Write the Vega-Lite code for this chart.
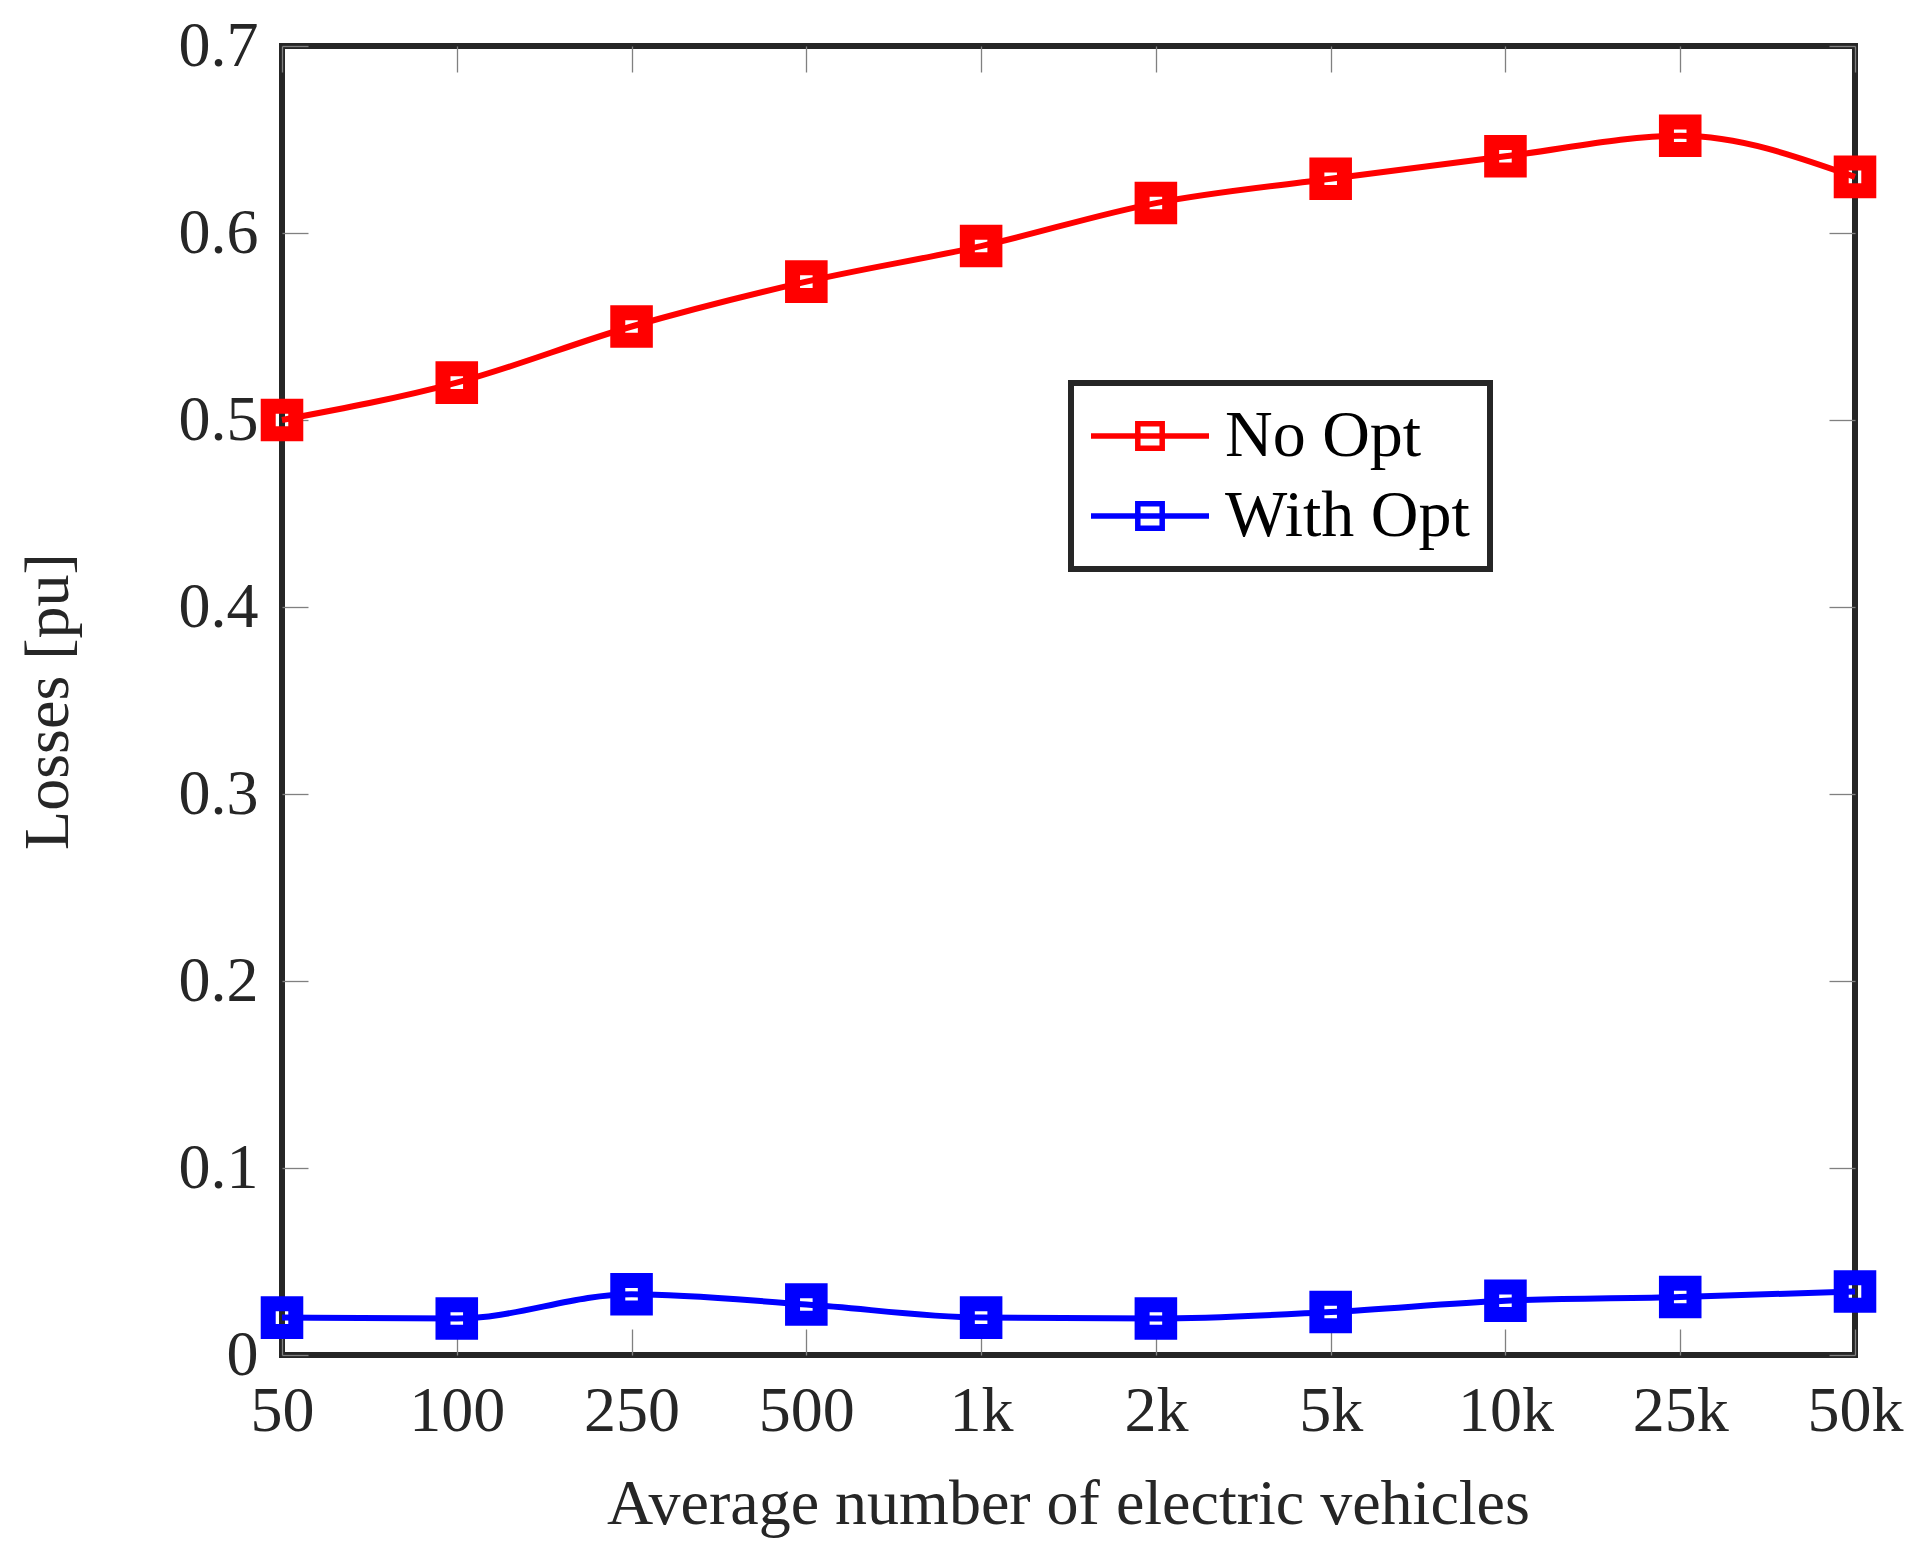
{
  "$schema": "https://vega.github.io/schema/vega-lite/v6.json",
  "width": 1573,
  "height": 1309,
  "autosize": {"type": "none"},
  "padding": {"left": 282, "top": 46, "right": 62, "bottom": 199},
  "background": "white",
  "config": {
    "font": "Liberation Serif",
    "view": {"stroke": "#262626", "strokeWidth": 6},
    "axis": {
      "labelFont": "Liberation Serif",
      "labelFontSize": 64,
      "labelColor": "#262626",
      "titleFont": "Liberation Serif",
      "titleFontSize": 64,
      "titleFontWeight": "normal",
      "titleColor": "#262626",
      "domain": false,
      "grid": false,
      "tickColor": "#808080",
      "tickWidth": 1.3,
      "tickSize": -26
    },
    "legend": {
      "orient": "none",
      "legendX": 789,
      "legendY": 337,
      "labelFont": "Liberation Serif",
      "labelFontSize": 66,
      "labelColor": "#000000",
      "labelLimit": 0,
      "labelOffset": 42,
      "strokeColor": "#262626",
      "strokeWidth": 6,
      "fillColor": "white",
      "padding": 20,
      "rowPadding": 14,
      "symbolType": "M-2.95,0H2.95M-0.61,-0.61H0.61V0.61H-0.61Z",
      "symbolSize": 1600,
      "symbolOffset": 26,
      "symbolStrokeWidth": 5.5,
      "symbolFillColor": "transparent"
    }
  },
  "data": {
    "values": [
      {"n": "50", "series": "No Opt", "loss": 0.500},
      {"n": "100", "series": "No Opt", "loss": 0.520},
      {"n": "250", "series": "No Opt", "loss": 0.550},
      {"n": "500", "series": "No Opt", "loss": 0.574},
      {"n": "1k", "series": "No Opt", "loss": 0.593},
      {"n": "2k", "series": "No Opt", "loss": 0.616},
      {"n": "5k", "series": "No Opt", "loss": 0.629},
      {"n": "10k", "series": "No Opt", "loss": 0.641},
      {"n": "25k", "series": "No Opt", "loss": 0.652},
      {"n": "50k", "series": "No Opt", "loss": 0.630},
      {"n": "50", "series": "With Opt", "loss": 0.020},
      {"n": "100", "series": "With Opt", "loss": 0.0195},
      {"n": "250", "series": "With Opt", "loss": 0.0325},
      {"n": "500", "series": "With Opt", "loss": 0.027},
      {"n": "1k", "series": "With Opt", "loss": 0.020},
      {"n": "2k", "series": "With Opt", "loss": 0.0195},
      {"n": "5k", "series": "With Opt", "loss": 0.023},
      {"n": "10k", "series": "With Opt", "loss": 0.029},
      {"n": "25k", "series": "With Opt", "loss": 0.031},
      {"n": "50k", "series": "With Opt", "loss": 0.034}
    ]
  },
  "encoding": {
    "color": {
      "field": "series",
      "type": "nominal",
      "scale": {"domain": ["No Opt", "With Opt"], "range": ["#ff0000", "#0000ff"]},
      "legend": {"title": null}
    }
  },
  "layer": [
    {
      "mark": {"type": "line", "strokeWidth": 6, "interpolate": "monotone"},
      "encoding": {
        "x": {
          "field": "n",
          "type": "ordinal",
          "sort": ["50", "100", "250", "500", "1k", "2k", "5k", "10k", "25k", "50k"],
          "scale": {"type": "point", "padding": 0},
          "axis": {
            "orient": "bottom",
            "labelAngle": 0,
            "labelPadding": 50,
            "labelBaseline": "top",
            "title": "Average number of electric vehicles",
            "titleX": 786,
            "titleY": 168,
            "titleBaseline": "alphabetic",
            "titleAlign": "center"
          }
        },
        "y": {
          "field": "loss",
          "type": "quantitative",
          "scale": {"domain": [0, 0.7], "nice": false},
          "axis": {
            "values": [0, 0.1, 0.2, 0.3, 0.4, 0.5, 0.6, 0.7],
            "format": ".1~f",
            "labelPadding": 50,
            "title": "Losses [pu]",
            "titleX": -234,
            "titleY": 655,
            "titleAngle": -90,
            "titleBaseline": "middle",
            "titleAlign": "center"
          }
        }
      }
    },
    {
      "mark": {"type": "point", "shape": "square", "filled": false, "size": 760, "strokeWidth": 15, "opacity": 1},
      "encoding": {
        "x": {
          "field": "n",
          "type": "ordinal",
          "sort": ["50", "100", "250", "500", "1k", "2k", "5k", "10k", "25k", "50k"],
          "scale": {"type": "point", "padding": 0},
          "axis": {"orient": "top", "labels": false, "title": null}
        },
        "y": {
          "field": "loss",
          "type": "quantitative",
          "scale": {"domain": [0, 0.7], "nice": false},
          "axis": {"orient": "right", "labels": false, "title": null, "values": [0, 0.1, 0.2, 0.3, 0.4, 0.5, 0.6, 0.7]}
        }
      }
    }
  ],
  "resolve": {"scale": {"x": "independent", "y": "independent"}}
}
